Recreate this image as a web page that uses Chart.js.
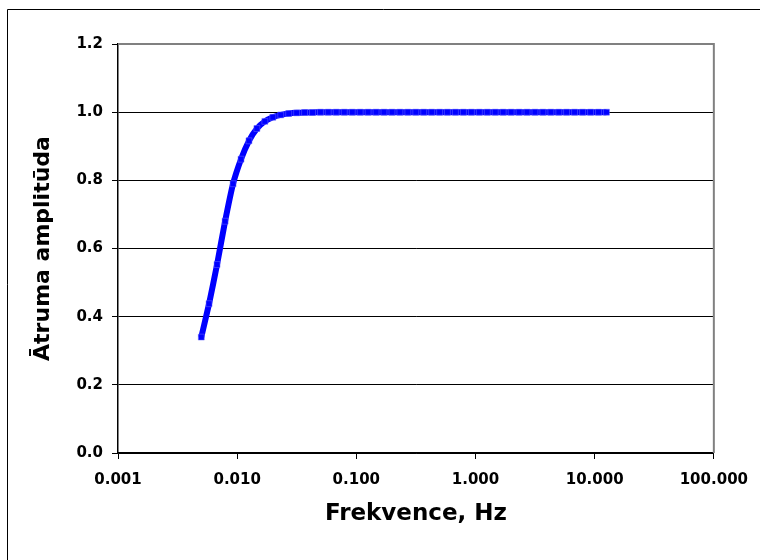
<!DOCTYPE html>
<html>
<head>
<meta charset="utf-8">
<script src="https://cdn.jsdelivr.net/npm/chart.js@4/dist/chart.umd.min.js"></script>
<style>
  html, body { margin: 0; padding: 0; background: #fff; }
  #wrap { width: 760px; height: 560px; }
</style>
</head>
<body>
<div id="wrap"><canvas id="ampChart" width="760" height="560"></canvas></div>
<script>
// frequency points (Hz) and velocity amplitude response
const frequencies = [
  0.00500, 0.00581, 0.00678, 0.00792, 0.00924, 0.01077, 0.01256, 0.01464,
  0.01707, 0.01991, 0.02321, 0.02706, 0.03155, 0.03678, 0.04289, 0.0500,
  0.0581, 0.0678, 0.0792, 0.0924, 0.1077, 0.1256, 0.1464, 0.1707,
  0.1991, 0.2321, 0.2706, 0.3155, 0.3678, 0.4289, 0.500, 0.581,
  0.678, 0.792, 0.924, 1.077, 1.256, 1.464, 1.707, 1.991,
  2.321, 2.706, 3.155, 3.678, 4.289, 5.00, 5.81, 6.78,
  7.92, 9.24, 10.77, 12.56
];
const amplitudes = [
  0.340, 0.438, 0.553, 0.680, 0.790, 0.862, 0.916, 0.952,
  0.973, 0.985, 0.992, 0.996, 0.998, 0.999, 0.999, 1.000,
  1.000, 1.000, 1.000, 1.000, 1.000, 1.000, 1.000, 1.000,
  1.000, 1.000, 1.000, 1.000, 1.000, 1.000, 1.000, 1.000,
  1.000, 1.000, 1.000, 1.000, 1.000, 1.000, 1.000, 1.000,
  1.000, 1.000, 1.000, 1.000, 1.000, 1.000, 1.000, 1.000,
  1.000, 1.000, 1.000, 1.000
];
const xTicks = [0.001, 0.01, 0.1, 1, 10, 100];
const yTicks = [0.0, 0.2, 0.4, 0.6, 0.8, 1.0, 1.2];

const xTitle = "Frekvence, Hz";
const yTitle = "Ātruma amplitūda";

const tickFont = { family: "'DejaVu Sans', sans-serif", size: 15, weight: "bold" };
const titleFont = { family: "'DejaVu Sans', sans-serif", size: 22, weight: "bold" };

// outer frame (top + left) and gray top/right edge of the plot
const framePlugin = {
  id: "frame",
  beforeDraw(chart) {
    const ctx = chart.ctx;
    ctx.save();
    ctx.strokeStyle = "#000";
    ctx.lineWidth = 1;
    ctx.beginPath();
    ctx.moveTo(7.5, chart.height);
    ctx.lineTo(7.5, 9.5);
    ctx.lineTo(chart.width, 9.5);
    ctx.stroke();
    ctx.restore();
  },
  beforeDatasetsDraw(chart) {
    const a = chart.chartArea;
    const ctx = chart.ctx;
    ctx.save();
    ctx.strokeStyle = "#808080";
    ctx.lineWidth = 2;
    ctx.beginPath();
    ctx.moveTo(a.left, a.top);
    ctx.lineTo(a.right, a.top);
    ctx.lineTo(a.right, a.bottom);
    ctx.stroke();
    ctx.restore();
  }
};

document.addEventListener("DOMContentLoaded", function () {
  const points = frequencies.map((f, i) => ({ x: f, y: amplitudes[i] }));

  new Chart("ampChart", {
    type: "line",
    data: {
      datasets: [{
        data: points,
        borderColor: "#0000ff",
        backgroundColor: "#0000ff",
        borderWidth: 6,
        pointStyle: "rect",
        pointRadius: 4.2,
        pointBorderWidth: 0.6,
        pointBorderColor: "rgba(110,110,255,0.8)",
        pointBackgroundColor: "#0000ff",
        tension: 0.2,
        fill: false
      }]
    },
    plugins: [framePlugin],
    options: {
      responsive: false,
      animation: false,
      events: [],
      layout: { padding: { top: 44, right: 45, left: 0, bottom: 0 } },
      plugins: { legend: { display: false }, tooltip: { enabled: false } },
      scales: {
        x: {
          type: "logarithmic",
          min: xTicks[0],
          max: xTicks[xTicks.length - 1],
          afterBuildTicks: (scale) => { scale.ticks = xTicks.map(v => ({ value: v, major: true })); },
          afterFit: (scale) => { scale.height = 107; },
          ticks: {
            color: "#000",
            font: tickFont,
            padding: 12,
            maxRotation: 0,
            autoSkip: false,
            callback: (v) => Number(v).toFixed(3)
          },
          grid: { drawOnChartArea: false, drawTicks: true, tickLength: 6, color: "#000" },
          border: { color: "#000", width: 1.5 },
          title: { display: true, text: xTitle, color: "#000", font: { ...titleFont, size: 23 }, padding: { top: 0, bottom: 32 } }
        },
        y: {
          min: 0,
          max: 1.2,
          afterBuildTicks: (scale) => { scale.ticks = yTicks.map(v => ({ value: v })); },
          afterFit: (scale) => { scale.width = 118; },
          ticks: {
            color: "#000",
            font: tickFont,
            padding: 9,
            callback: (v) => Number(v).toFixed(1)
          },
          grid: {
            color: (c) => (c.tick && c.tick.value >= 1.2 ? "rgba(0,0,0,0)" : "#000"),
            tickColor: "#000",
            tickLength: 6,
            lineWidth: 1
          },
          border: { color: "#000", width: 1.5 },
          title: { display: true, text: yTitle, color: "#000", font: titleFont, padding: { top: 30, bottom: 0 } }
        }
      }
    }
  });
});
</script>
</body>
</html>
